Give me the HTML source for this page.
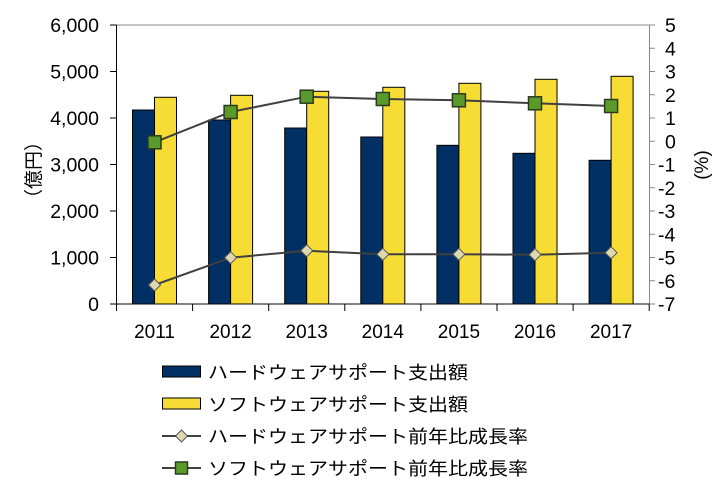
<!DOCTYPE html>
<html><head><meta charset="utf-8"><style>body{margin:0;background:#fff}svg{display:block}</style></head><body>
<svg width="721" height="483" xmlns="http://www.w3.org/2000/svg" font-family="Liberation Sans, Noto Sans CJK JP, sans-serif">
<rect width="721" height="483" fill="#fff"/>
<line x1="116.5" y1="25" x2="649.5" y2="25" stroke="#888" stroke-width="1"/>
<line x1="649.5" y1="25" x2="649.5" y2="304" stroke="#888" stroke-width="1"/>
<g fill="#003063" stroke="#000" stroke-width="1">
<rect x="132.5" y="110" width="22" height="194"/>
<rect x="208.6" y="120" width="22" height="184"/>
<rect x="284.7" y="128" width="22" height="176"/>
<rect x="360.8" y="137" width="22" height="167"/>
<rect x="436.9" y="145.3" width="22" height="158.7"/>
<rect x="513" y="153.3" width="22" height="150.7"/>
<rect x="589.1" y="160.3" width="22" height="143.7"/>
</g>
<g fill="#f7dc36" stroke="#000" stroke-width="1">
<rect x="154.5" y="97.3" width="22" height="206.7"/>
<rect x="230.6" y="95.3" width="22" height="208.7"/>
<rect x="306.7" y="91.3" width="22" height="212.7"/>
<rect x="382.8" y="87.3" width="22" height="216.7"/>
<rect x="458.9" y="83.3" width="22" height="220.7"/>
<rect x="535" y="79.3" width="22" height="224.7"/>
<rect x="611.1" y="76.3" width="22" height="227.7"/>
</g>
<line x1="116.5" y1="25" x2="116.5" y2="304" stroke="#000"/>
<line x1="110" y1="304" x2="649.5" y2="304" stroke="#000"/>
<g stroke="#000">
<line x1="110" y1="25" x2="116.5" y2="25"/><line x1="110" y1="71.5" x2="116.5" y2="71.5"/><line x1="110" y1="118" x2="116.5" y2="118"/><line x1="110" y1="164.5" x2="116.5" y2="164.5"/><line x1="110" y1="211" x2="116.5" y2="211"/><line x1="110" y1="257.5" x2="116.5" y2="257.5"/>
<line x1="116.5" y1="304" x2="116.5" y2="311"/><line x1="192.6" y1="304" x2="192.6" y2="311"/><line x1="268.7" y1="304" x2="268.7" y2="311"/><line x1="344.8" y1="304" x2="344.8" y2="311"/><line x1="420.9" y1="304" x2="420.9" y2="311"/><line x1="497" y1="304" x2="497" y2="311"/><line x1="573.1" y1="304" x2="573.1" y2="311"/><line x1="649.2" y1="304" x2="649.2" y2="311"/>
</g>
<g stroke="#888">
<line x1="649.5" y1="48.25" x2="655" y2="48.25"/><line x1="649.5" y1="71.5" x2="655" y2="71.5"/><line x1="649.5" y1="94.75" x2="655" y2="94.75"/><line x1="649.5" y1="118" x2="655" y2="118"/><line x1="649.5" y1="141.25" x2="655" y2="141.25"/><line x1="649.5" y1="164.5" x2="655" y2="164.5"/><line x1="649.5" y1="187.75" x2="655" y2="187.75"/><line x1="649.5" y1="211" x2="655" y2="211"/><line x1="649.5" y1="234.25" x2="655" y2="234.25"/><line x1="649.5" y1="257.5" x2="655" y2="257.5"/><line x1="649.5" y1="280.75" x2="655" y2="280.75"/><line x1="649.5" y1="304" x2="655" y2="304"/><line x1="649.5" y1="25" x2="655" y2="25"/>
</g>
<polyline points="154.5,142.3 230.6,112 306.7,96.7 382.8,99 458.9,100.3 535,103.3 611.1,106" fill="none" stroke="#404040" stroke-width="2"/>
<polyline points="154.5,285 230.6,257.7 306.7,250.7 382.8,254.3 458.9,254.3 535,254.7 611.1,252.7" fill="none" stroke="#404040" stroke-width="2"/>
<g fill="#5a9a28" stroke="#2b3a1e" stroke-width="1.5">
<rect x="148" y="135.8" width="13" height="13"/><rect x="224.1" y="105.5" width="13" height="13"/><rect x="300.2" y="90.2" width="13" height="13"/><rect x="376.3" y="92.5" width="13" height="13"/><rect x="452.4" y="93.8" width="13" height="13"/><rect x="528.5" y="96.8" width="13" height="13"/><rect x="604.6" y="99.5" width="13" height="13"/>
</g>
<g fill="#ddd8b0" stroke="#555" stroke-width="1">
<path d="M154.5,279 l6,6 l-6,6 l-6,-6z"/><path d="M230.6,251.7 l6,6 l-6,6 l-6,-6z"/><path d="M306.7,244.7 l6,6 l-6,6 l-6,-6z"/><path d="M382.8,248.3 l6,6 l-6,6 l-6,-6z"/><path d="M458.9,248.3 l6,6 l-6,6 l-6,-6z"/><path d="M535,248.7 l6,6 l-6,6 l-6,-6z"/><path d="M611.1,246.7 l6,6 l-6,6 l-6,-6z"/>
</g>
<g font-size="19.5" fill="#000" text-anchor="end">
<text x="99" y="32">6,000</text><text x="99" y="78.5">5,000</text><text x="99" y="125">4,000</text><text x="99" y="171.5">3,000</text><text x="99" y="218">2,000</text><text x="99" y="264.5">1,000</text><text x="99" y="311">0</text>
</g>
<g font-size="19.5" fill="#000">
<text x="665" y="32">5</text><text x="665" y="55.25">4</text><text x="665" y="78.5">3</text><text x="665" y="101.75">2</text><text x="665" y="125">1</text><text x="665" y="148.25">0</text><text x="658" y="171.5">-1</text><text x="658" y="194.75">-2</text><text x="658" y="218">-3</text><text x="658" y="241.25">-4</text><text x="658" y="264.5">-5</text><text x="658" y="287.75">-6</text><text x="658" y="311">-7</text>
</g>
<g font-size="19" fill="#000" text-anchor="middle">
<text x="154.5" y="338">2011</text><text x="230.6" y="338">2012</text><text x="306.7" y="338">2013</text><text x="382.8" y="338">2014</text><text x="458.9" y="338">2015</text><text x="535" y="338">2016</text><text x="611.1" y="338">2017</text>
</g>
<text transform="translate(40,170) rotate(-90)" font-size="19" text-anchor="middle">（億円）</text>
<text transform="translate(708,165) rotate(-90)" font-size="19" text-anchor="middle">(%)</text>
<rect x="162.5" y="366" width="38" height="11" fill="#003063" stroke="#000"/>
<rect x="162.5" y="398" width="38" height="11" fill="#f7dc36" stroke="#000"/>
<line x1="162" y1="436" x2="201" y2="436" stroke="#404040" stroke-width="2"/>
<path d="M181.5,430 l6,6 l-6,6 l-6,-6z" fill="#ddd8b0" stroke="#555"/>
<line x1="162" y1="468" x2="201" y2="468" stroke="#404040" stroke-width="2"/>
<rect x="175.5" y="462" width="12" height="12" fill="#5a9a28" stroke="#2b3a1e" stroke-width="1.5"/>
<g font-size="18" fill="#000">
<text x="208" y="379" textLength="260" lengthAdjust="spacingAndGlyphs">ハードウェアサポート支出額</text>
<text x="208" y="411" textLength="260" lengthAdjust="spacingAndGlyphs">ソフトウェアサポート支出額</text>
<text x="208" y="443" textLength="320" lengthAdjust="spacingAndGlyphs">ハードウェアサポート前年比成長率</text>
<text x="208" y="475" textLength="320" lengthAdjust="spacingAndGlyphs">ソフトウェアサポート前年比成長率</text>
</g>
</svg>
</body></html>
